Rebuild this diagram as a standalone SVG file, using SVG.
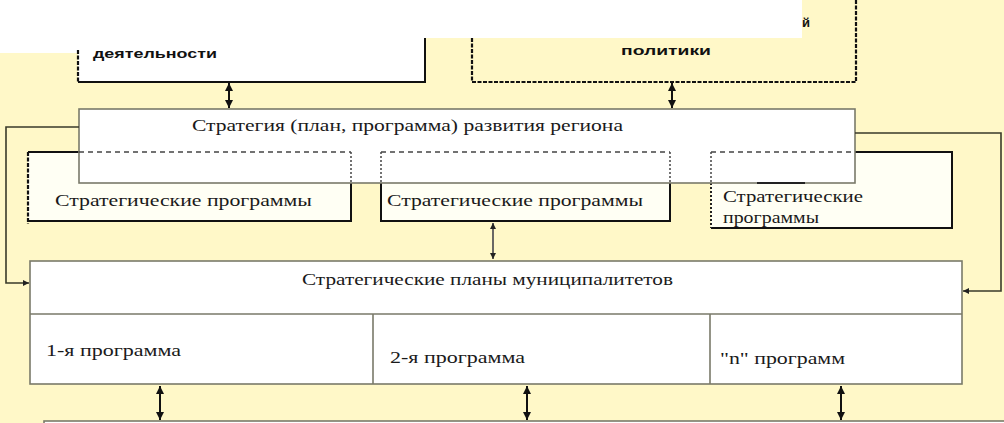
<svg xmlns="http://www.w3.org/2000/svg" width="1004" height="423" viewBox="0 0 1004 423">
<style>
.serif{font-family:"Liberation Serif","Times New Roman",serif;font-size:16.5px;fill:#1a1a1a}
.sans{font-family:"Liberation Sans",Arial,sans-serif;font-weight:bold;font-size:13px;fill:#111}
.box{fill:#ffffff;stroke:#7a7a6a;stroke-width:1.6}
.solid{fill:none;stroke:#111;stroke-width:2}
.heavydash{fill:none;stroke:#111;stroke-width:2.2;stroke-dasharray:4 1.5}
.hidden{fill:none;stroke:#444;stroke-width:1.5;stroke-dasharray:5 4}
.dotted{fill:none;stroke:#444;stroke-width:1.5;stroke-dasharray:2 2}
.conn{fill:none;stroke:#3a3a2a;stroke-width:1.6}
.dbl{fill:none;stroke:#111;stroke-width:2;marker-start:url(#ah);marker-end:url(#ah)}
</style>
<defs>
<marker id="ah" viewBox="0 0 10 10" refX="10" refY="5" markerWidth="9" markerHeight="8" markerUnits="userSpaceOnUse" orient="auto-start-reverse"><path d="M0,0 L10,5 L0,10 z" fill="#111"/></marker>
<marker id="ahs" viewBox="0 0 10 10" refX="10" refY="5" markerWidth="7" markerHeight="6" markerUnits="userSpaceOnUse" orient="auto-start-reverse"><path d="M0,0 L10,5 L0,10 z" fill="#222"/></marker>
<clipPath id="cut"><rect x="80" y="51" width="340" height="20"/></clipPath>
</defs>
<rect x="0" y="0" width="1004" height="423" fill="#fff8c8"/>
<rect x="0" y="0" width="802" height="38" fill="#ffffff"/>
<rect x="0" y="0" width="78" height="53" fill="#ffffff"/>

<g id="top-left">
<rect x="78" y="36" width="347" height="46" fill="#ffffff"/>
<path class="heavydash" d="M78,50 V82"/>
<path class="solid" d="M78,82 H425 V38"/>
<text class="sans" x="93" y="58" textLength="124" lengthAdjust="spacingAndGlyphs" clip-path="url(#cut)">деятельности</text>
</g>

<g id="top-right">
<path class="heavydash" d="M472,38 V82 H856 V0"/>
<text class="sans" x="802" y="27">й</text>
<text class="sans" x="621" y="55" textLength="90" lengthAdjust="spacingAndGlyphs">политики</text>
</g>

<g id="prog1">
<rect x="28" y="152" width="323" height="69" fill="#fffff4" stroke="none"/>
<path class="solid" d="M28,152 H79 M351,183 V221 H28"/>
<path class="heavydash" d="M28,152 V224"/>
</g>
<g id="prog2">
<rect x="381" y="152" width="289" height="69" fill="#fffff4" stroke="none"/>
<path class="solid" d="M381,183 V221 H670 V183"/>
</g>
<g id="prog3">
<rect x="711" y="152" width="241" height="76" fill="#fffff4" stroke="none"/>
<path class="solid" d="M855,152 H952 V228 H711"/>
<path class="dotted" d="M711,183 V228" style="stroke-width:2;stroke:#222"/>
</g>

<g id="strategy">
<rect class="box" x="79" y="109" width="776" height="74"/>
<text class="serif" x="192" y="131" textLength="431" lengthAdjust="spacingAndGlyphs">Стратегия (план, программа) развития региона</text>
</g>

<g id="hidden-lines">
<path class="hidden" d="M79,152 H351 M381,152 H670 M711,152 H855"/>
<path class="dotted" d="M351,152 V183 M381,152 V183 M670,152 V183 M711,152 V183"/>
<path d="M757,183 H805" stroke="#222" stroke-width="2"/>
</g>

<g id="prog-labels">
<text class="serif" x="55" y="206" textLength="257" lengthAdjust="spacingAndGlyphs">Стратегические программы</text>
<text class="serif" x="387" y="206" textLength="256" lengthAdjust="spacingAndGlyphs">Стратегические программы</text>
<text class="serif" x="723" y="202" textLength="140" lengthAdjust="spacingAndGlyphs">Стратегические</text>
<text class="serif" x="723" y="223" textLength="96" lengthAdjust="spacingAndGlyphs">программы</text>
</g>

<g id="municipal">
<rect class="box" x="30" y="261" width="932" height="123"/>
<path d="M30,314 H962 M373,314 V384 M710,314 V384" stroke="#7a7a6a" stroke-width="1.6" fill="none"/>
<text class="serif" x="302" y="285" textLength="371" lengthAdjust="spacingAndGlyphs">Стратегические планы муниципалитетов</text>
<text class="serif" x="46" y="356" textLength="135" lengthAdjust="spacingAndGlyphs">1-я программа</text>
<text class="serif" x="390" y="363" textLength="135" lengthAdjust="spacingAndGlyphs">2-я программа</text>
<text class="serif" x="720" y="364" textLength="125" lengthAdjust="spacingAndGlyphs">"n" программ</text>
</g>

<g id="bottom">
<rect x="44" y="421" width="970" height="10" fill="#ffffff" stroke="#7a7a6a" stroke-width="1.6"/>
</g>

<g id="connectors">
<path class="dbl" d="M229,83 V108"/>
<path class="dbl" d="M672,83 V108"/>
<path d="M493,223 V259" fill="none" stroke="#2a2a3a" stroke-width="1.4" marker-start="url(#ahs)" marker-end="url(#ahs)"/>
<path class="conn" d="M79,127 H6 V283 H29" marker-end="url(#ahs)"/>
<path class="conn" d="M855,133 H1001 V291 H963" marker-end="url(#ahs)"/>
<path class="dbl" d="M160,386 V420"/>
<path class="dbl" d="M527,386 V420"/>
<path class="dbl" d="M841,386 V420"/>
</g>
</svg>
